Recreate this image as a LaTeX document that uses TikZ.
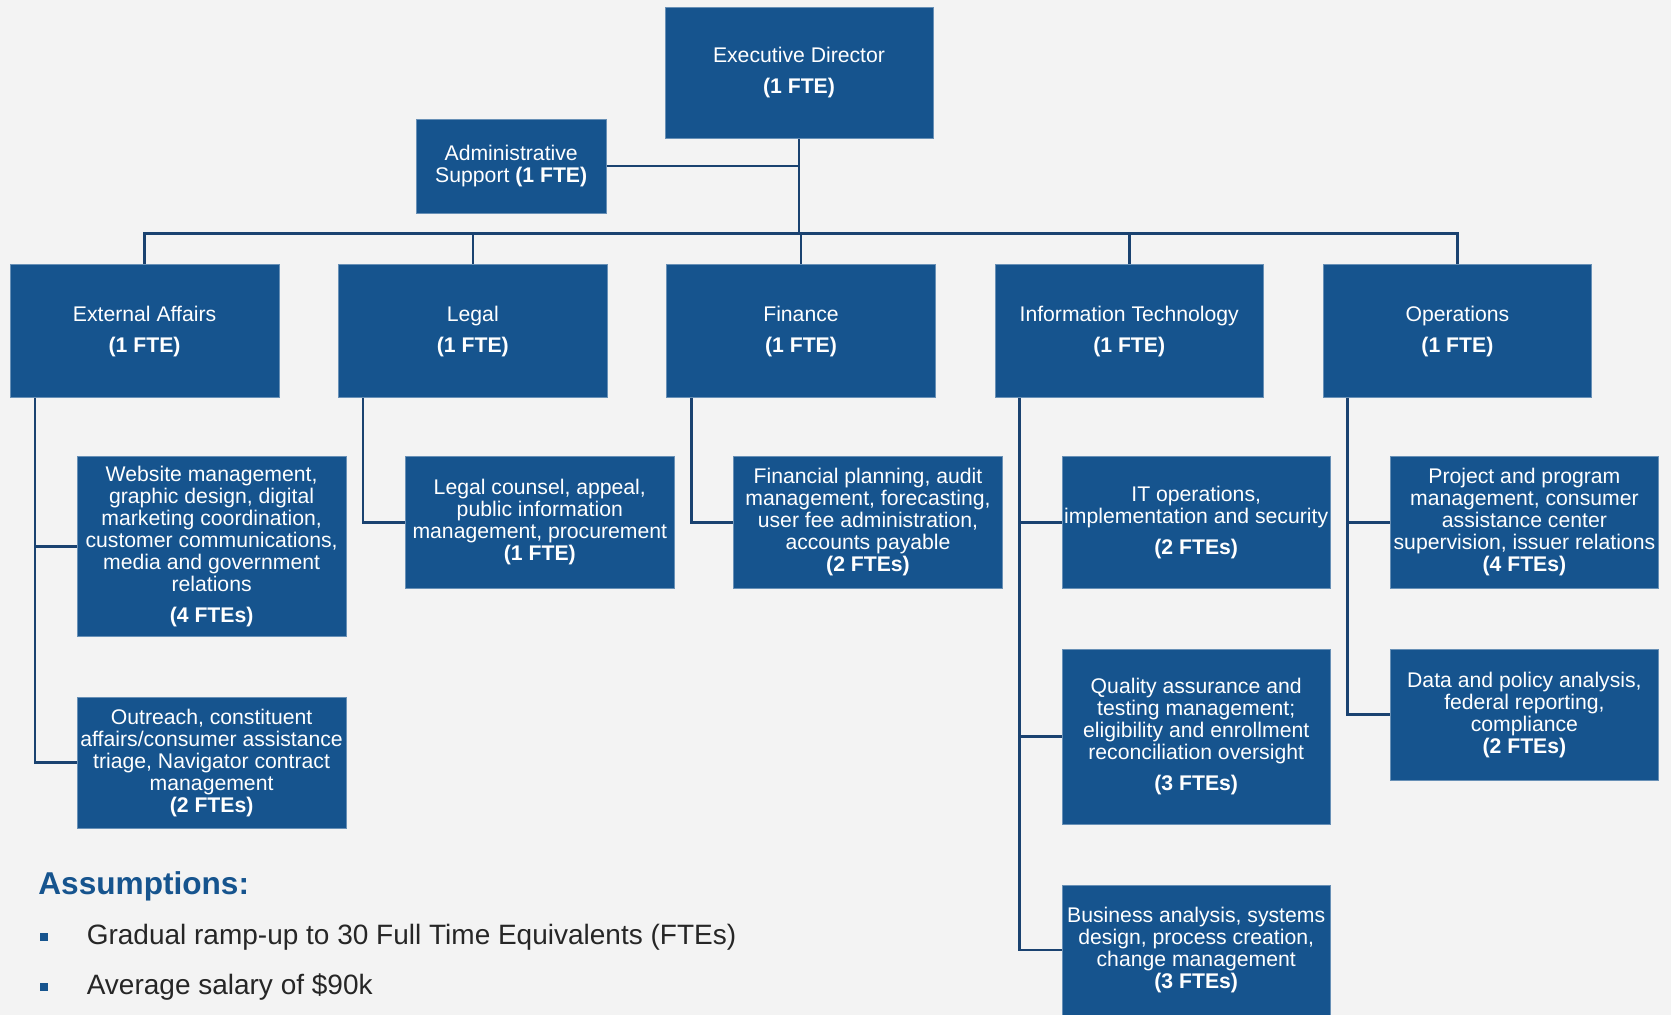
\documentclass[tikz,border=0pt]{standalone}
\usepackage{fontspec}
\setmainfont{Liberation Sans}
\usepackage{tikz}
\usetikzlibrary{positioning}
\definecolor{boxblue}{RGB}{22,84,142}
\definecolor{lineblue}{RGB}{26,66,112}
\definecolor{pagegray}{RGB}{243,243,243}
\definecolor{bodygray}{RGB}{38,38,38}
\newcommand{\boxfont}{\fontsize{10.6}{11}\selectfont}
\tikzset{
  unit/.style={rectangle, fill=boxblue, draw=boxblue!65!white, line width=0.4pt,
    text=white, align=center, inner sep=0pt, font=\boxfont},
  head/.style={unit, minimum width=134pt, minimum height=65.5pt},
  dept/.style={unit, minimum width=134.3pt, minimum height=66.75pt},
  task/.style={unit, minimum width=134.3pt, minimum height=66pt},
  link/.style={draw=lineblue, line width=1.3pt},
  bullet/.style={rectangle, fill=boxblue, inner sep=0pt, minimum size=4pt},
  note/.style={inner sep=0pt, text=bodygray, font=\fontsize{14}{16}\selectfont},
}

\begin{document}
\begin{tikzpicture}

  % Page
  \fill[pagegray] (0,0) rectangle (835.5pt,-507.5pt);
  \useasboundingbox (0,0) rectangle (835.5pt,-507.5pt);

  % Nodes
  \node[head] (ed) at (399.5pt,-36.5pt) {Executive Director\\[4.5pt]\textbf{(1 FTE)}} ;
  \node[unit, minimum width=95pt, minimum height=47pt, left=29pt of ed, yshift=-46.5pt] (admin) {Administrative\\Support \textbf{(1 FTE)}} ;

  \node[dept, below=62.5pt of ed, xshift=1pt] (fin)   {Finance\\[4.5pt]\textbf{(1 FTE)}} ;
  \node[dept, left=29.4pt of fin]   (legal) {Legal\\[4.5pt]\textbf{(1 FTE)}} ;
  \node[dept, left=29.4pt of legal] (ea)    {External Affairs\\[4.5pt]\textbf{(1 FTE)}} ;
  \node[dept, right=29.4pt of fin]  (it)    {Information Technology\\[4.5pt]\textbf{(1 FTE)}} ;
  \node[dept, right=29.4pt of it]   (ops)   {Operations\\[4.5pt]\textbf{(1 FTE)}} ;

  \node[task, minimum height=90pt, below right=28.9pt and 33.5pt of ea.south west] (ea1) {Website management,\\graphic design, digital\\marketing coordination,\\customer communications,\\media and government\\relations\\[4.5pt]\textbf{(4 FTEs)}} ;
  \node[task, minimum height=65.5pt, below=30pt of ea1] (ea2) {Outreach, constituent\\affairs/consumer assistance\\triage, Navigator contract\\management\\\textbf{(2 FTEs)}} ;

  \node[task, below right=28.9pt and 33.5pt of legal.south west] (legal1) {Legal counsel, appeal,\\public information\\management, procurement\\\textbf{(1 FTE)}} ;

  \node[task, below right=28.9pt and 33.5pt of fin.south west] (fin1) {Financial planning, audit\\management, forecasting,\\user fee administration,\\accounts payable\\\textbf{(2 FTEs)}} ;

  \node[task, below right=28.9pt and 33.5pt of it.south west] (it1) {IT operations,\\implementation and security\\[4.5pt]\textbf{(2 FTEs)}} ;
  \node[task, minimum height=87.5pt, below=30pt of it1] (it2) {Quality assurance and\\testing management;\\eligibility and enrollment\\reconciliation oversight\\[4.5pt]\textbf{(3 FTEs)}} ;
  \node[task, minimum height=65pt, below=30pt of it2] (it3) {Business analysis, systems\\design, process creation,\\change management\\\textbf{(3 FTEs)}} ;

  \node[task, below right=28.9pt and 33.5pt of ops.south west] (ops1) {Project and program\\management, consumer\\assistance center\\supervision, issuer relations\\\textbf{(4 FTEs)}} ;
  \node[task, minimum height=65.5pt, below=30pt of ops1] (ops2) {Data and policy analysis,\\federal reporting,\\compliance\\\textbf{(2 FTEs)}} ;

  % Edges
  \coordinate (bus) at ([yshift=-47.25pt]ed.south) ;
  \draw[link] (ed.south) -- (bus) ;
  \draw[link] (admin.east) -- (admin.east -| bus) ;
  \foreach \d in {ea,legal,fin,it,ops}
    \draw[link] (\d.north) |- (bus) ;
  \foreach \d/\t in {ea/ea1,ea/ea2,legal/legal1,fin/fin1,it/it1,it/it2,it/it3,ops/ops1,ops/ops2}
    \draw[link] ([xshift=12.5pt]\d.south west) |- (\t.west) ;

  % Assumptions
  \node[anchor=west, inner sep=0pt, text=boxblue, font=\fontsize{15.8}{18}\selectfont\bfseries] (asm) at (19pt,-443pt) {Assumptions:} ;
  \node[bullet] (b1) at (22pt,-468.5pt) {} ;
  \node[bullet, below=20.75pt of b1] (b2) {} ;
  \node[note, right=19pt of b1] (n1) {Gradual ramp-up to 30 Full Time Equivalents (FTEs)} ;
  \node[note, right=19pt of b2] (n2) {Average salary of \$90k} ;

\end{tikzpicture}
\end{document}
